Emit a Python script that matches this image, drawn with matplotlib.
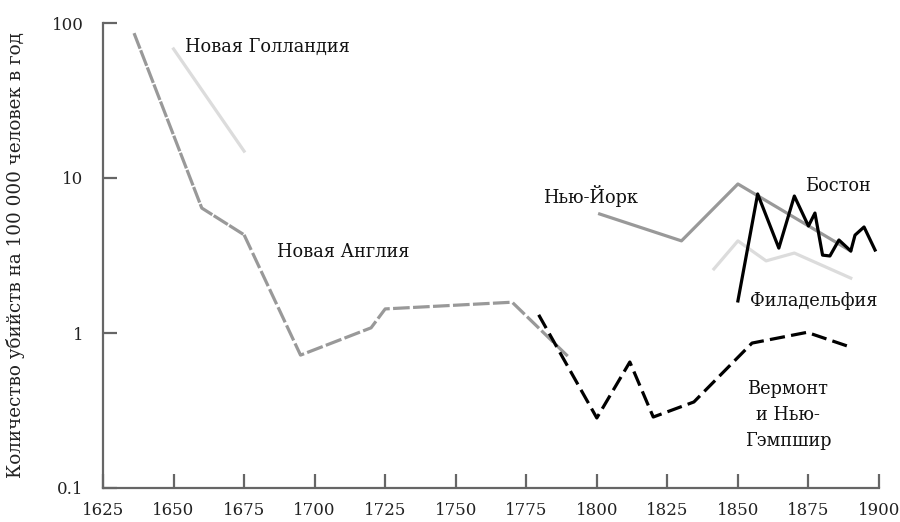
import matplotlib
matplotlib.use("Agg")
import matplotlib.pyplot as plt

plt.rcParams['font.family'] = ['DejaVu Serif']
plt.rcParams['lines.scale_dashes'] = False

# New England
ne_years = [1636, 1660, 1675, 1680, 1695, 1720, 1725, 1770, 1790]
ne_vals = [86, 6.4, 4.3, 2.75, 0.72, 1.08, 1.43, 1.58, 0.70]
# New Holland
nh_years = [1650, 1675]
nh_vals = [68, 14.9]
# New York
ny_years = [1801, 1830, 1850, 1890]
ny_vals = [5.86, 3.93, 9.15, 3.38]
# Philadelphia
ph_years = [1841.5, 1850, 1860, 1870, 1890]
ph_vals = [2.59, 3.93, 2.92, 3.28, 2.26]
# Boston
bo_years = [1850, 1857, 1864.5, 1870, 1875, 1877.3, 1880, 1882.6, 1885.8, 1890, 1891.5, 1894.7, 1898.6]
bo_vals = [1.61, 7.89, 3.53, 7.65, 4.90, 5.94, 3.18, 3.14, 3.98, 3.38, 4.28, 4.83, 3.43]
# Vermont & New Hampshire
vt_years = [1779.4, 1800, 1811.7, 1820, 1834.4, 1855, 1874.5, 1890]
vt_vals = [1.31, 0.283, 0.65, 0.287, 0.359, 0.861, 1.01, 0.81]

x_ticks = [1625, 1650, 1675, 1700, 1725, 1750, 1775, 1800, 1825, 1850, 1875, 1900]
y_ticks = [0.1, 1, 10, 100]
y_tick_labels = ["0.1", "1", "10", "100"]
y_label = "Количество убийств на 100 000 человек в год"

fig = plt.figure(figsize=(9, 5.22), dpi=100)
ax = fig.add_axes([103/900, 1-488/522, (879-103)/900, (488-23)/522])

lw = 2.3
gray = "#999999"
light = "#dcdcdc"

l, = ax.plot(ne_years[:3], ne_vals[:3], color=gray, lw=lw)
l.set_dashes((12, 1.2))
l, = ax.plot(ne_years[2:], ne_vals[2:], color=gray, lw=lw)
l.set_dashes((12, 2.4))
ax.plot(nh_years, nh_vals, color=light, lw=lw)
ax.plot(ny_years, ny_vals, color=gray, lw=lw)
ax.plot(ph_years, ph_vals, color=light, lw=lw)
ax.plot(bo_years, bo_vals, color="black", lw=lw)
l, = ax.plot(vt_years, vt_vals, color="black", lw=lw)
l.set_dashes((11, 4.5))

ax.set_yscale('log')
ax.set_xlim(1625, 1900)
ax.set_ylim(0.1, 100)
ax.set_yticks(y_ticks)
ax.set_yticklabels(y_tick_labels)
ax.yaxis.set_minor_locator(matplotlib.ticker.NullLocator())
ax.set_xticks(x_ticks)
ax.set_xticklabels([str(t) for t in x_ticks])

for s in ['top', 'right']:
    ax.spines[s].set_visible(False)
for s in ['left', 'bottom']:
    ax.spines[s].set_color("#666666")
    ax.spines[s].set_linewidth(1.6)
ax.tick_params(axis='both', direction='in', length=10, width=1.6, color="#666666",
               labelcolor="#222222", labelsize=12)
ax.tick_params(axis='y', pad=14)
ax.tick_params(axis='x', pad=10)
ax.set_ylabel(y_label, fontsize=13.2, color="#222222")
ax.yaxis.set_label_coords(-0.1005, 0.5)

tk = dict(fontsize=12.8, color="#111111")
ax.text(1654.1, 70, "Новая Голландия", va='center', ha='left', **tk)
ax.text(1686.7, 3.33, "Новая Англия", va='center', ha='left', **tk)
ax.text(1797.9, 7.65, "Нью-Йорк", va='center', ha='center', **tk)
ax.text(1885.5, 8.87, "Бостон", va='center', ha='center', **tk)
ax.text(1877, 1.61, "Филадельфия", va='center', ha='center', **tk)
ax.text(1867.7, 0.296, "Вермонт\nи Нью-\nГэмпшир", va='center', ha='center',
        linespacing=1.55, **tk)

fig.savefig("out.png", dpi=100)
